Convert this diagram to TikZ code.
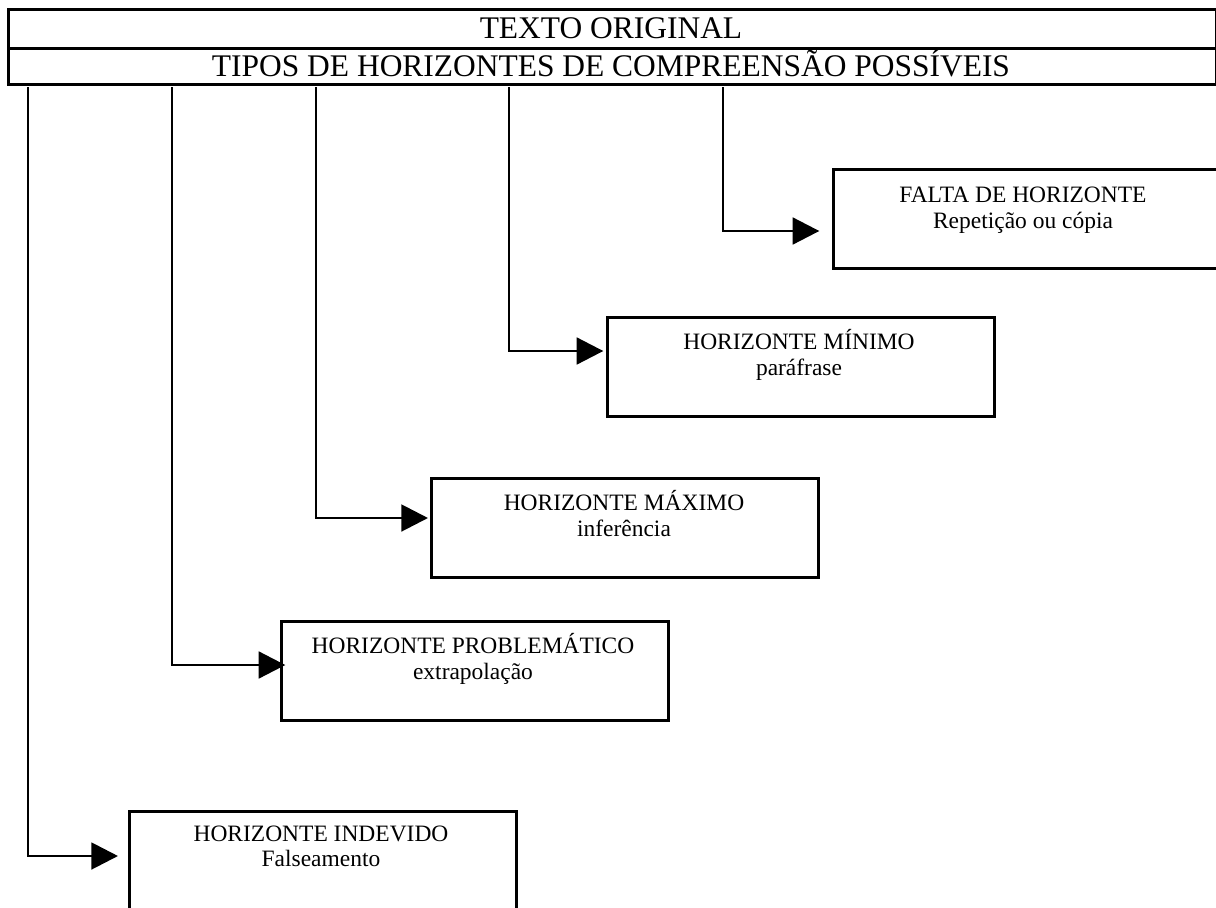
\documentclass[tikz,border=0pt]{standalone}
\usepackage{fontspec}
\setmainfont{Liberation Serif}
\usetikzlibrary{arrows.meta}
\begin{document}
\begin{tikzpicture}[x=0.75pt,y=-0.75pt,
  frame/.style={draw, line width=2pt, inner sep=0pt, anchor=north west},
  boxw/.style={frame, minimum width=290.25pt, minimum height=74.25pt},
  hdrtxt/.style={font=\fontsize{23.6}{28}\selectfont, anchor=base, inner sep=0pt},
  ttl/.style={font=\fontsize{17.6}{21}\selectfont, anchor=base, inner sep=0pt},
  conn/.style={line width=2.2pt, -{Triangle[length=20pt,width=20pt]}}]
\useasboundingbox (0,0) rectangle (1216,907);
\clip (0,0) rectangle (1216,907);
% header
\node[frame, minimum width=906pt, minimum height=29.25pt] (h1) at (7,8) {};
\node[frame, minimum width=906pt, minimum height=27pt] (h2) at (7,47) {};
\node[hdrtxt] (h1t) at (611,38) {TEXTO ORIGINAL};
\node[hdrtxt] (h2t) at (611,76) {TIPOS DE HORIZONTES DE COMPREENSÃO POSSÍVEIS};
% boxes
\node[boxw] (b5) at (832,168) {};
\node[ttl] (b5a) at (1023,202) {FALTA DE HORIZONTE};
\node[ttl] (b5b) at (1023,228) {Repetição ou cópia};
\node[boxw] (b4) at (606,316) {};
\node[ttl] (b4a) at (799,349) {HORIZONTE MÍNIMO};
\node[ttl] (b4b) at (799,375) {paráfrase};
\node[boxw] (b3) at (430,477) {};
\node[ttl] (b3a) at (624,510) {HORIZONTE MÁXIMO};
\node[ttl] (b3b) at (624,536) {inferência};
\node[boxw] (b2) at (280,620) {};
\node[ttl] (b2a) at (473,653) {HORIZONTE PROBLEMÁTICO};
\node[ttl] (b2b) at (473,679) {extrapolação};
\node[boxw] (b1) at (128,810) {};
\node[ttl] (b1a) at (321,841) {HORIZONTE INDEVIDO};
\node[ttl] (b1b) at (321,866) {Falseamento};
% connector starts
\coordinate (s1) at (28,87);
\coordinate (s2) at (172,87);
\coordinate (s3) at (316,87);
\coordinate (s4) at (509,87);
\coordinate (s5) at (723,87);
% connectors
\draw[conn] (s5) |- ([xshift=-9.5pt]b5.west |- 0,231);
\draw[conn] (s4) |- ([xshift=-2pt]b4.west |- 0,351);
\draw[conn] (s3) |- ([xshift=-1.5pt]b3.west |- 0,518);
\draw[conn] (s2) |- ([xshift=4pt]b2.west |- 0,665);
\draw[conn] (s1) |- ([xshift=-7.5pt]b1.west |- 0,856);
\end{tikzpicture}
\end{document}
